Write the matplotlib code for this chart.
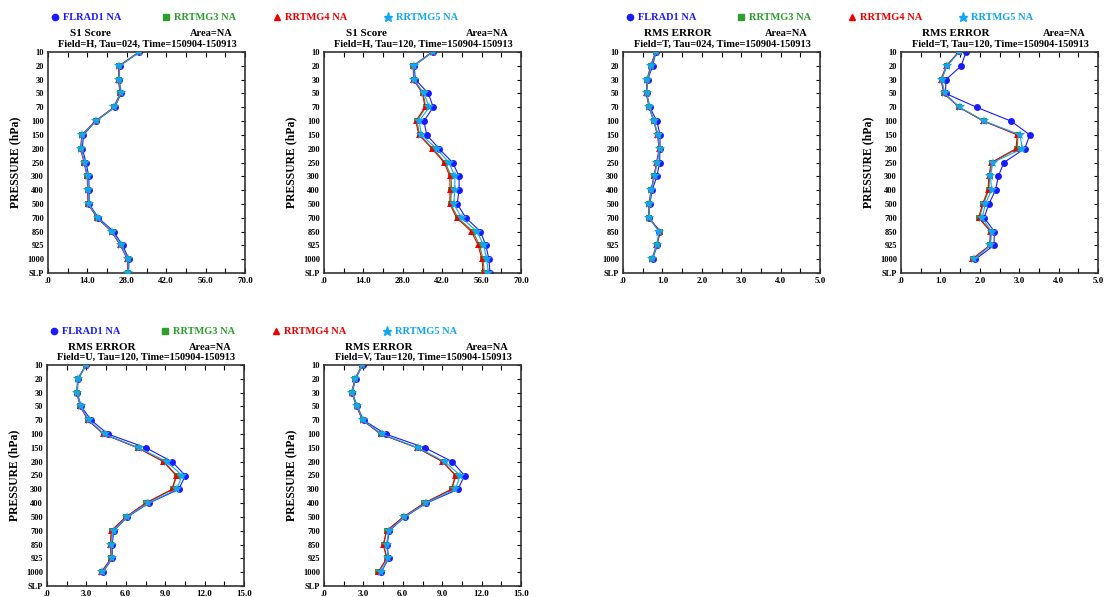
import numpy as np
import matplotlib
matplotlib.use("Agg")
import matplotlib.pyplot as plt
from matplotlib.lines import Line2D
from matplotlib.ticker import FixedLocator, FuncFormatter

# === DATA ===
LEVELS = ["10", "20", "30", "50", "70", "100", "150", "200", "250", "300",
          "400", "500", "700", "850", "925", "1000", "SLP"]
SERIES = ["FLRAD1", "RRTMG3", "RRTMG4", "RRTMG5"]
nan = np.nan

# S1 score, H, tau 024
h024_flrad1 = [32.5, 25.5, 25.3, 26.0, 23.7, 17.0, 12.6, 12.2, 13.5, 14.5, 14.6, 14.6, 17.9, 23.3, 26.5, 28.8, 28.6]
h024_rrtmg3 = [32.4, 25.3, 25.1, 25.7, 23.5, 16.9, 12.1, 11.7, 12.9, 14.0, 14.2, 14.3, 17.5, 22.7, 25.8, 28.3, 28.4]
h024_rrtmg4 = [32.4, 25.2, 25.0, 25.6, 23.4, 16.8, 12.0, 11.6, 12.8, 13.9, 14.1, 14.2, 17.4, 22.6, 25.7, 28.2, 28.3]
h024_rrtmg5 = [32.5, 25.4, 25.2, 25.8, 23.6, 17.0, 12.2, 11.8, 13.0, 14.1, 14.3, 14.4, 17.6, 22.8, 25.9, 28.4, 28.5]

# S1 score, H, tau 120
h120_flrad1 = [38.6, 32.0, 32.5, 37.1, 38.8, 35.5, 36.5, 40.9, 45.7, 48.0, 48.0, 47.3, 50.4, 55.6, 57.5, 58.6, 59.0]
h120_rrtmg3 = [38.5, 31.8, 31.9, 35.2, 36.2, 33.0, 34.0, 38.7, 43.1, 45.2, 45.3, 45.0, 47.6, 52.9, 55.3, 56.5, 57.0]
h120_rrtmg4 = [38.4, 31.7, 31.8, 35.0, 35.9, 32.6, 33.7, 38.4, 42.7, 44.7, 44.8, 44.7, 47.1, 52.4, 54.8, 56.1, 56.6]
h120_rrtmg5 = [38.6, 31.9, 32.0, 35.5, 37.4, 33.8, 34.6, 40.0, 44.4, 46.5, 46.5, 46.1, 48.9, 54.4, 56.7, 57.8, 58.4]

# RMS error, T, tau 024
t024_flrad1 = [0.84, 0.75, 0.63, 0.60, 0.68, 0.86, 0.94, 0.94, 0.93, 0.86, 0.74, 0.68, 0.66, 0.92, 0.87, 0.75, nan]
t024_rrtmg3 = [0.83, 0.71, 0.62, 0.60, 0.67, 0.79, 0.88, 0.93, 0.86, 0.79, 0.72, 0.67, 0.66, 0.94, 0.86, 0.74, nan]
t024_rrtmg4 = [0.83, 0.70, 0.61, 0.59, 0.66, 0.78, 0.87, 0.92, 0.85, 0.79, 0.71, 0.66, 0.65, 0.95, 0.85, 0.73, nan]
t024_rrtmg5 = [0.84, 0.72, 0.62, 0.60, 0.67, 0.78, 0.89, 0.93, 0.87, 0.80, 0.72, 0.67, 0.66, 0.91, 0.86, 0.74, nan]

# RMS error, T, tau 120
t120_flrad1 = [1.65, 1.53, 1.14, 1.13, 1.92, 2.79, 3.27, 3.14, 2.61, 2.47, 2.40, 2.23, 2.11, 2.37, 2.36, 1.89, nan]
t120_rrtmg3 = [1.47, 1.16, 1.03, 1.10, 1.48, 2.10, 2.97, 2.95, 2.31, 2.25, 2.23, 2.09, 1.99, 2.28, 2.26, 1.82, nan]
t120_rrtmg4 = [1.46, 1.15, 1.01, 1.09, 1.47, 2.09, 2.95, 2.92, 2.29, 2.23, 2.21, 2.07, 1.97, 2.27, 2.25, 1.80, nan]
t120_rrtmg5 = [1.48, 1.17, 1.03, 1.11, 1.49, 2.11, 3.02, 3.08, 2.33, 2.27, 2.30, 2.14, 2.06, 2.30, 2.27, 1.86, nan]

# RMS error, U, tau 120
u120_flrad1 = [2.99, 2.38, 2.30, 2.60, 3.37, 4.64, 7.55, 9.52, 10.54, 10.03, 7.75, 6.12, 5.10, 4.95, 4.98, 4.25, nan]
u120_rrtmg3 = [2.98, 2.35, 2.27, 2.54, 3.15, 4.32, 6.93, 8.92, 9.88, 9.56, 7.53, 6.02, 4.92, 4.85, 4.90, 4.15, nan]
u120_rrtmg4 = [2.97, 2.34, 2.26, 2.53, 3.13, 4.30, 6.91, 8.87, 9.83, 9.52, 7.50, 6.00, 4.89, 4.83, 4.88, 4.12, nan]
u120_rrtmg5 = [2.99, 2.36, 2.28, 2.56, 3.19, 4.38, 6.99, 9.12, 10.29, 9.88, 7.68, 6.08, 5.07, 4.89, 4.94, 4.21, nan]

# RMS error, V, tau 120
v120_flrad1 = [2.95, 2.40, 2.15, 2.53, 3.02, 4.69, 7.70, 9.77, 10.70, 10.20, 7.80, 6.15, 4.98, 4.80, 4.93, 4.35, nan]
v120_rrtmg3 = [2.92, 2.36, 2.12, 2.49, 2.95, 4.33, 7.12, 9.06, 10.05, 9.74, 7.64, 6.06, 4.78, 4.54, 4.80, 4.14, nan]
v120_rrtmg4 = [2.91, 2.35, 2.11, 2.48, 2.94, 4.31, 7.10, 9.02, 10.00, 9.70, 7.62, 6.04, 4.76, 4.51, 4.78, 4.11, nan]
v120_rrtmg5 = [2.93, 2.38, 2.13, 2.51, 2.98, 4.39, 7.17, 9.20, 10.38, 10.00, 7.74, 6.12, 4.94, 4.76, 4.89, 4.31, nan]

# === STYLE ===
W, H = 1105, 597
COLORS = ["#1a1aff", "#2e9e2e", "#ee0000", "#12a6f2"]
MARKERS = ["o", "s", "^", "*"]
MSIZES = [5.0, 4.2, 5.0, 7.5]
FONT = ["Liberation Serif", "DejaVu Serif"]


def px(x, y):
    return x / W, 1 - y / H


def gfmt(v, pos=None):
    s = f"{v:.1f}"
    return s[1:] if s.startswith("0.") else s


def draw_legend(fig, left, y):
    for i, name in enumerate(SERIES):
        mx = left + 7 + i * 111
        fx, fy = px(mx, y)
        fig.add_artist(Line2D([fx], [fy], marker=MARKERS[i], color=COLORS[i],
                              markersize=MSIZES[i] * 0.9, transform=fig.transFigure))
        tx, ty = px(mx + 8, y)
        fig.text(tx, ty, f"{name} NA", color=COLORS[i], fontsize=7.5,
                 fontweight="bold", family=FONT, va="center", ha="left")


def draw_panel(fig, left, top, series, xmax, title, field, tau, ylabel=True):
    x0, y0 = left / W, 1 - (top + 221) / H
    ax = fig.add_axes([x0, y0, 197 / W, 221 / H])
    ypos = np.arange(len(LEVELS))
    for i, vals in enumerate(series):
        ax.plot(vals, ypos, color=COLORS[i], lw=0.8, marker=MARKERS[i],
                markersize=MSIZES[i], markeredgewidth=0, zorder=2 + i)
    ax.set_ylim(len(LEVELS) - 1, 0)
    ax.set_xlim(0, xmax)

    ax.yaxis.set_major_locator(FixedLocator(ypos))
    ax.set_yticklabels(LEVELS, fontsize=6, fontweight="bold", family=FONT)
    ax.tick_params(axis="y", which="both", left=False, right=True,
                   direction="in", length=3, width=0.8, pad=3)

    xt = np.linspace(0, xmax, 11)
    ax.xaxis.set_major_locator(FixedLocator(xt))
    ax.xaxis.set_major_formatter(FuncFormatter(
        lambda v, p: gfmt(v) if p is not None and p % 2 == 0 else ""))
    ax.tick_params(axis="x", top=True, bottom=True, direction="in",
                   length=3.5, width=0.8, labelsize=6.5, pad=3)
    for lab in ax.get_xticklabels():
        lab.set_fontweight("bold")
        lab.set_family(FONT)

    for sp in ax.spines.values():
        sp.set_linewidth(1.2)
        sp.set_color("#333333")

    if ylabel:
        ax.set_ylabel("PRESSURE (hPa)", fontsize=8.5, fontweight="bold",
                      family=FONT, labelpad=4)

    # two-line GrADS style header
    cx = 42 if title.startswith("S1") else 55
    fig.text(*px(left + cx, top - 18), title, fontsize=8, fontweight="bold",
             family=FONT, ha="center", va="center")
    fig.text(*px(left + 185, top - 18), "Area=NA", fontsize=7.5,
             fontweight="bold", family=FONT, ha="right", va="center")
    fig.text(*px(left + 99, top - 8), f"Field={field}, Tau={tau}, Time=150904-150913",
             fontsize=7.5, fontweight="bold", family=FONT, ha="center", va="center")
    return ax


# === MAIN ===
def main():
    fig = plt.figure(figsize=(W / 100, H / 100), dpi=100)

    draw_legend(fig, 48, 17)
    draw_legend(fig, 623, 17)
    draw_legend(fig, 47, 331)

    draw_panel(fig, 48, 52, [h024_flrad1, h024_rrtmg3, h024_rrtmg4, h024_rrtmg5],
               70, "S1 Score", "H", "024")
    draw_panel(fig, 324, 52, [h120_flrad1, h120_rrtmg3, h120_rrtmg4, h120_rrtmg5],
               70, "S1 Score", "H", "120")
    draw_panel(fig, 623, 52, [t024_flrad1, t024_rrtmg3, t024_rrtmg4, t024_rrtmg5],
               5, "RMS ERROR", "T", "024", ylabel=False)
    draw_panel(fig, 901, 52, [t120_flrad1, t120_rrtmg3, t120_rrtmg4, t120_rrtmg5],
               5, "RMS ERROR", "T", "120")
    draw_panel(fig, 47, 365, [u120_flrad1, u120_rrtmg3, u120_rrtmg4, u120_rrtmg5],
               15, "RMS ERROR", "U", "120")
    draw_panel(fig, 324, 365, [v120_flrad1, v120_rrtmg3, v120_rrtmg4, v120_rrtmg5],
               15, "RMS ERROR", "V", "120")

    fig.savefig("out.png", dpi=100)


if __name__ == "__main__":
    main()
